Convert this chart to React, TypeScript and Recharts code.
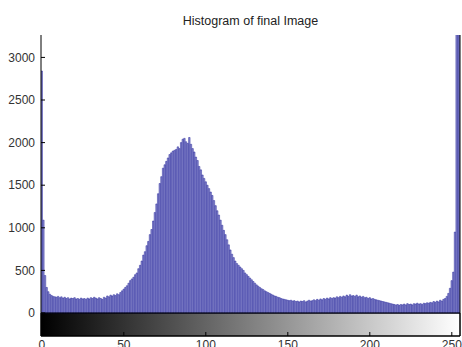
import { ComposedChart, Bar, XAxis, YAxis, ReferenceArea, ReferenceLine } from "recharts";

// gray level counts 0..255
const counts = [
  2840, 1090, 440, 300, 250, 220, 205, 195, 190, 185,
  195, 180, 190, 175, 185, 170, 180, 165, 175, 170,
  180, 165, 170, 160, 175, 165, 170, 160, 175, 165,
  180, 170, 185, 175, 165, 180, 170, 160, 185, 175,
  200, 190, 210, 200, 215, 205, 225, 215, 240, 260,
  280, 300, 320, 350, 380, 400, 420, 450, 470, 520,
  560, 610, 680, 720, 790, 840, 920, 980, 1080, 1180,
  1280, 1400, 1520, 1600, 1700, 1740, 1780, 1820, 1860, 1880,
  1900, 1910, 1920, 1950, 1930, 2000, 2040, 2050, 2010, 1990,
  2060, 1980, 1930, 1890, 1830, 1790, 1720, 1680, 1620, 1580,
  1540, 1500, 1460, 1420, 1380, 1320, 1260, 1200, 1150, 1090,
  1030, 970, 920, 860, 800, 740, 690, 650, 610, 580,
  560, 540, 520, 500, 470, 450, 430, 410, 390, 370,
  350, 330, 315, 300, 285, 275, 260, 250, 240, 230,
  220, 210, 200, 195, 185, 180, 170, 165, 160, 155,
  150, 145, 150, 140, 145, 135, 140, 130, 140, 135,
  145, 130, 140, 150, 140, 145, 155, 145, 160, 150,
  165, 155, 170, 160, 175, 165, 180, 170, 180, 175,
  190, 180, 195, 185, 200, 190, 210, 195, 215, 200,
  205, 195, 210, 190, 200, 185, 195, 180, 185, 170,
  180, 165, 170, 160, 155, 150, 145, 140, 135, 130,
  125, 120, 115, 110, 105, 100, 95, 100, 90, 100,
  95, 105, 95, 110, 100, 105, 95, 110, 105, 115,
  105, 110, 100, 115, 110, 120, 115, 125, 120, 135,
  125, 140, 130, 150, 140, 160, 170, 195, 230, 290,
  380, 480, 950, 3300, 3300, 3300,
];

const xTicks = [0, 50, 100, 150, 200, 250];
const yTicks = [0, 500, 1000, 1500, 2000, 2500, 3000];

const data = counts.map((count, level) => ({ level, count }));

const font = "Liberation Sans, Arial, sans-serif";
const tickStyle = { fontSize: 12, fill: "#333", fontFamily: font };

export default function App() {
  return (
    <div style={{ position: "absolute", left: 0, top: 0, width: 462, height: 347, background: "#fff" }}>
      <div
        style={{
          position: "absolute",
          left: 41,
          width: 419,
          top: 15,
          textAlign: "center",
          fontSize: 12.5,
          lineHeight: "13px",
          color: "#222",
          fontFamily: font,
        }}
      >
        Histogram of final Image
      </div>
      <ComposedChart width={462} height={347} data={data} margin={{ top: 35, right: 0, bottom: 0, left: 0 }}>
        <defs>
          <linearGradient id="grayBar" x1="0" y1="0" x2="1" y2="0">
            <stop offset="0%" stopColor="#000" />
            <stop offset="100%" stopColor="#fff" />
          </linearGradient>
        </defs>
        <XAxis
          dataKey="level"
          type="number"
          domain={[-0.5, 255]}
          allowDataOverflow
          ticks={xTicks}
          height={11}
          tickSize={-4}
          tickMargin={8}
          stroke="#000"
          tick={tickStyle}
        />
        <XAxis
          xAxisId="top"
          dataKey="level"
          type="number"
          orientation="top"
          domain={[-0.5, 255]}
          allowDataOverflow
          ticks={xTicks}
          height={0}
          tickSize={-4}
          tick={false}
          stroke="#000"
        />
        <YAxis
          type="number"
          domain={[-270, 3263]}
          allowDataOverflow
          ticks={yTicks}
          width={41}
          tickSize={-4}
          tickMargin={10}
          stroke="#000"
          tick={tickStyle}
        />
        <YAxis
          yAxisId="right"
          orientation="right"
          type="number"
          domain={[-270, 3263]}
          allowDataOverflow
          ticks={yTicks}
          width={2}
          tickSize={-4}
          tick={false}
          stroke="#000"
        />
        <ReferenceArea x1={-0.5} x2={255} y1={-270} y2={0} fill="url(#grayBar)" fillOpacity={1} stroke="#000" />
        <Bar
          dataKey="count"
          barSize={1.64}
          fill="#8a8acc"
          stroke="#2a2a9c"
          strokeWidth={0.5}
          isAnimationActive={false}
        />
        <ReferenceLine y={0} stroke="#000" />
      </ComposedChart>
    </div>
  );
}
